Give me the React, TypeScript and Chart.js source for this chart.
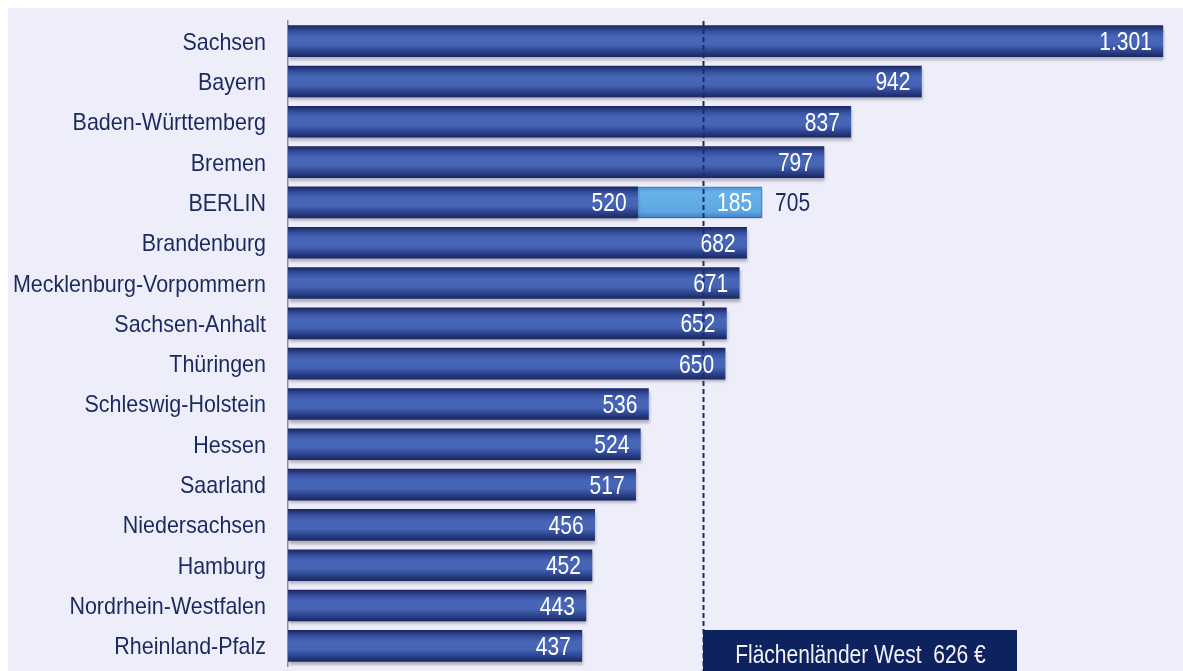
import React, { useEffect, useRef } from "react";
import { Chart, registerables } from "chart.js";

Chart.register(...registerables);

const categories = [
  "Sachsen",
  "Bayern",
  "Baden-Württemberg",
  "Bremen",
  "BERLIN",
  "Brandenburg",
  "Mecklenburg-Vorpommern",
  "Sachsen-Anhalt",
  "Thüringen",
  "Schleswig-Holstein",
  "Hessen",
  "Saarland",
  "Niedersachsen",
  "Hamburg",
  "Nordrhein-Westfalen",
  "Rheinland-Pfalz",
];
const baseValues = [1301, 942, 837, 797, 520, 682, 671, 652, 650, 536, 524, 517, 456, 452, 443, 437];
const extraValues: (number | null)[] = [null, null, null, null, 185, null, null, null, null, null, null, null, null, null, null, null];
const totalLabels: (number | null)[] = [null, null, null, null, 705, null, null, null, null, null, null, null, null, null, null, null];
const westLineValue = 617;
const westLabel = "Flächenländer West  626 €";

const FONT = "'Liberation Sans', Arial, sans-serif";
const fmt = (v: number) => v.toLocaleString("de-DE");

function narrowText(
  c: CanvasRenderingContext2D,
  text: string,
  x: number,
  y: number,
  size: number,
  sx: number,
  align: "left" | "right" | "center",
  color: string
) {
  c.save();
  c.font = `${size}px ${FONT}`;
  c.fillStyle = color;
  c.textAlign = align;
  c.textBaseline = "alphabetic";
  c.translate(x, y);
  c.scale(sx, 1);
  c.fillText(text, 0, 0);
  c.restore();
}

function barGradient(ctx: any, dark: boolean) {
  const chart = ctx.chart;
  const fallback = dark ? "#3B56A6" : "#5AA5E5";
  const yScale = chart.scales?.y;
  if (!yScale || ctx.dataIndex === undefined) return fallback;
  const yc = yScale.getPixelForValue(ctx.dataIndex);
  if (!isFinite(yc)) return fallback;
  const g = chart.ctx.createLinearGradient(0, yc - 15.5, 0, yc + 15.5);
  if (dark) {
    g.addColorStop(0, "#1A2760");
    g.addColorStop(0.2, "#3852A2");
    g.addColorStop(0.38, "#4866B8");
    g.addColorStop(0.62, "#4564B5");
    g.addColorStop(0.82, "#2D438E");
    g.addColorStop(1, "#1A2860");
  } else {
    g.addColorStop(0, "#4C92D4");
    g.addColorStop(0.18, "#68B2EA");
    g.addColorStop(0.8, "#5DA6E3");
    g.addColorStop(1, "#3F80C8");
  }
  return g;
}

const backgroundPlugin = {
  id: "bg",
  beforeDraw(chart: any) {
    const c = chart.ctx;
    c.save();
    c.fillStyle = "#EEEEFA";
    c.fillRect(0, 0, chart.width, chart.height);
    c.restore();
  },
};

const shadowPlugin = {
  id: "barShadow",
  beforeDatasetDraw(chart: any) {
    const c = chart.ctx;
    c.save();
    c.shadowColor = "rgba(40,40,60,0.35)";
    c.shadowOffsetY = 3;
    c.shadowOffsetX = 1;
    c.shadowBlur = 3;
  },
  afterDatasetDraw(chart: any) {
    chart.ctx.restore();
  },
};

const overlayPlugin = {
  id: "overlay",
  afterDatasetsDraw(chart: any) {
    const c = chart.ctx;
    const xs = chart.scales.x;
    const ys = chart.scales.y;
    const area = chart.chartArea;
    const lx = Math.round(xs.getPixelForValue(westLineValue)) + 0.5;

    categories.forEach((name, i) => {
      const yc = ys.getPixelForValue(i);
      narrowText(c, name, area.left - 22, yc + 8.5, 24, 0.895, "right", "#1B2A5E");
    });

    c.save();
    c.strokeStyle = "#1B2D6B";
    c.lineWidth = 2;
    c.setLineDash([5, 3]);
    c.beginPath();
    c.moveTo(lx, area.top);
    c.lineTo(lx, chart.height);
    c.stroke();
    c.restore();

    const m0 = chart.getDatasetMeta(0);
    const m1 = chart.getDatasetMeta(1);
    m0.data.forEach((el: any, i: number) => {
      narrowText(c, fmt(baseValues[i]), el.x - 11, el.y + 9, 25, 0.84, "right", "#FFFFFF");
    });
    m1.data.forEach((el: any, i: number) => {
      const v = extraValues[i];
      if (v == null) return;
      narrowText(c, fmt(v), el.x - 10, el.y + 9, 25, 0.84, "right", "#FFFFFF");
      const t = totalLabels[i];
      if (t != null) {
        narrowText(c, fmt(t), el.x + 13, el.y + 9, 25, 0.84, "left", "#1B2A5E");
      }
    });

    const boxTop = 622;
    c.save();
    c.fillStyle = "#0E2260";
    c.fillRect(lx - 0.5, boxTop, 314, chart.height - boxTop);
    c.restore();
    narrowText(c, westLabel, lx + 157, boxTop + 33, 25, 0.84, "center", "#F2F2F8");
  },
};

export default function App() {
  const ref = useRef<HTMLCanvasElement | null>(null);
  useEffect(() => {
    document.documentElement.style.overflow = "hidden";
    document.body.style.margin = "8px 0 0 8px";
    if (!ref.current) return;
    const chart = new Chart(ref.current, {
      type: "bar",
      data: {
        labels: categories,
        datasets: [
          {
            data: baseValues,
            backgroundColor: (ctx: any) => barGradient(ctx, true),
            borderWidth: 0,
            barThickness: 31,
          },
          {
            data: extraValues,
            backgroundColor: (ctx: any) => barGradient(ctx, false),
            borderColor: "#3E7CC0",
            borderWidth: { top: 1, right: 1, bottom: 1, left: 0 },
            borderSkipped: false,
            barThickness: 31,
          },
        ],
      },
      plugins: [backgroundPlugin, shadowPlugin, overlayPlugin],
      options: {
        indexAxis: "y",
        animation: false,
        responsive: false,
        maintainAspectRatio: false,
        layout: { padding: { top: 13, bottom: 5, left: 0, right: 0 } },
        plugins: {
          legend: { display: false },
          tooltip: { enabled: false },
        },
        scales: {
          x: {
            stacked: true,
            display: false,
            min: 0,
            max: 1331,
          },
          y: {
            stacked: true,
            grid: { display: false, drawTicks: false },
            border: { display: true, color: "#8A8AB4", width: 1.5 },
            ticks: { display: false },
            afterFit: (scale: any) => {
              scale.width = 280;
              scale.paddingTop = 0;
              scale.paddingBottom = 0;
            },
          },
        },
      },
    } as any);
    return () => chart.destroy();
  }, []);
  return (
    <div style={{ width: 1175, height: 663, background: "#EEEEFA" }}>
      <canvas ref={ref} width={1175} height={663} style={{ display: "block" }} />
    </div>
  );
}
